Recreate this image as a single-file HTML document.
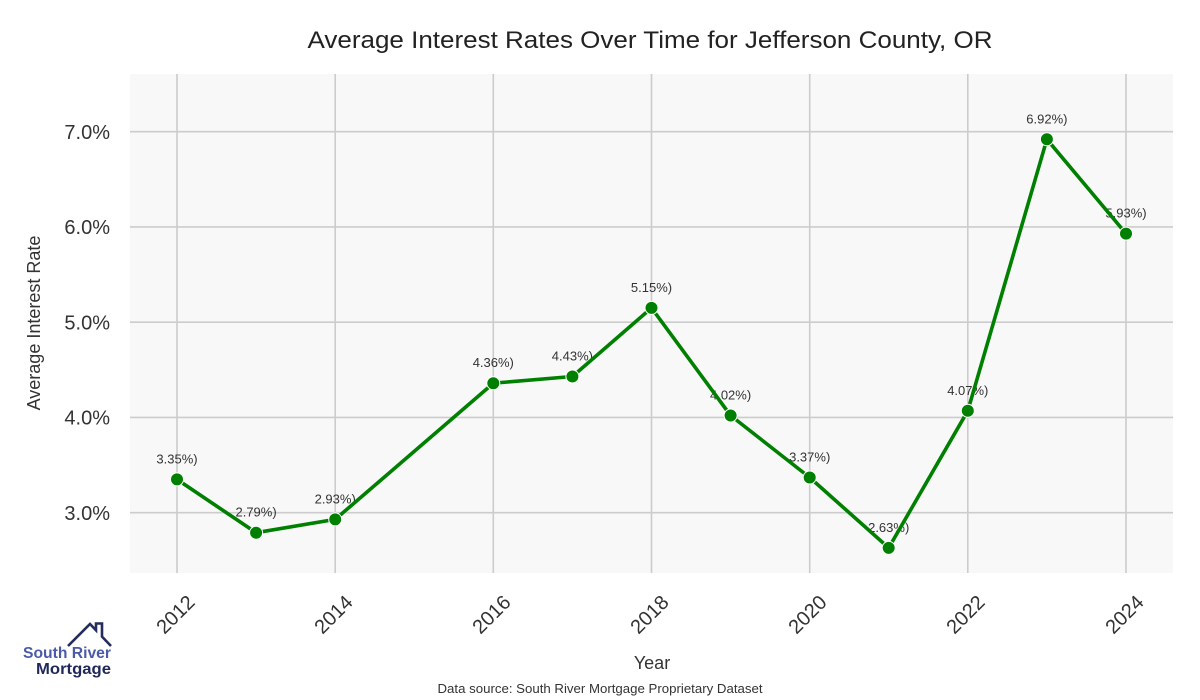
<!DOCTYPE html>
<html>
<head>
<meta charset="utf-8">
<style>
html,body{margin:0;padding:0;background:#fff;}
svg{display:block;}
text{font-family:"Liberation Sans",sans-serif;}
</style>
</head>
<body>
<svg width="1200" height="700" viewBox="0 0 1200 700" xmlns="http://www.w3.org/2000/svg">
  <rect x="0" y="0" width="1200" height="700" fill="#ffffff"/>
  <!-- title -->
  <text x="650" y="48" font-size="24" fill="#222" text-anchor="middle" textLength="685" lengthAdjust="spacingAndGlyphs">Average Interest Rates Over Time for Jefferson County, OR</text>

  <!-- plot bg -->
  <rect x="130" y="74" width="1043" height="499" fill="#f8f8f8"/>

  <!-- grid -->
  <g stroke="#cccccc" stroke-width="1.6">
    <line x1="130" x2="1173" y1="512.7" y2="512.7"/>
    <line x1="130" x2="1173" y1="417.45" y2="417.45"/>
    <line x1="130" x2="1173" y1="322.2" y2="322.2"/>
    <line x1="130" x2="1173" y1="226.95" y2="226.95"/>
    <line x1="130" x2="1173" y1="131.7" y2="131.7"/>
    <line y1="74" y2="573" x1="177" x2="177"/>
    <line y1="74" y2="573" x1="335.2" x2="335.2"/>
    <line y1="74" y2="573" x1="493.3" x2="493.3"/>
    <line y1="74" y2="573" x1="651.5" x2="651.5"/>
    <line y1="74" y2="573" x1="809.7" x2="809.7"/>
    <line y1="74" y2="573" x1="967.8" x2="967.8"/>
    <line y1="74" y2="573" x1="1126" x2="1126"/>
  </g>

  <!-- y tick labels -->
  <g font-size="20" fill="#333" text-anchor="end">
    <text x="110" y="520">3.0%</text>
    <text x="110" y="424.7">4.0%</text>
    <text x="110" y="329.5">5.0%</text>
    <text x="110" y="234.2">6.0%</text>
    <text x="110" y="139">7.0%</text>
  </g>

  <!-- x tick labels -->
  <g font-size="20" fill="#333" text-anchor="middle" dominant-baseline="central">
    <text x="176" y="615" transform="rotate(-45 176 615)">2012</text>
    <text x="334" y="615" transform="rotate(-45 334 615)">2014</text>
    <text x="492" y="615" transform="rotate(-45 492 615)">2016</text>
    <text x="650" y="615" transform="rotate(-45 650 615)">2018</text>
    <text x="808" y="615" transform="rotate(-45 808 615)">2020</text>
    <text x="966" y="615" transform="rotate(-45 966 615)">2022</text>
    <text x="1125" y="615" transform="rotate(-45 1125 615)">2024</text>
  </g>

  <!-- axis labels -->
  <text x="652" y="669" font-size="18" fill="#333" text-anchor="middle">Year</text>
  <text x="0" y="0" font-size="18" fill="#333" text-anchor="middle" transform="translate(40 323) rotate(-90)">Average Interest Rate</text>
  <text x="600" y="693" font-size="13" fill="#333" text-anchor="middle" textLength="325" lengthAdjust="spacingAndGlyphs">Data source: South River Mortgage Proprietary Dataset</text>

  <!-- data labels -->
  <g font-size="13" fill="#333" text-anchor="middle">
    <text x="177" y="463.4">3.35%)</text>
    <text x="256.1" y="516.7">2.79%)</text>
    <text x="335.2" y="503.4">2.93%)</text>
    <text x="493.3" y="367.2">4.36%)</text>
    <text x="572.4" y="360.5">4.43%)</text>
    <text x="651.5" y="291.9">5.15%)</text>
    <text x="730.6" y="399.5">4.02%)</text>
    <text x="809.7" y="461.5">3.37%)</text>
    <text x="888.7" y="531.9">2.63%)</text>
    <text x="967.8" y="394.8">4.07%)</text>
    <text x="1046.9" y="123.3">6.92%)</text>
    <text x="1126" y="217.6">5.93%)</text>
  </g>

  <!-- line -->
  <polyline fill="none" stroke="#008000" stroke-width="3.6" stroke-linejoin="round"
    points="177,479.4 256.1,532.7 335.2,519.4 493.3,383.2 572.4,376.5 651.5,307.9 730.6,415.5 809.7,477.5 888.7,547.9 967.8,410.8 1046.9,139.3 1126,233.6"/>

  <!-- markers -->
  <g fill="#008000" stroke="#ffffff" stroke-width="1">
    <circle cx="177" cy="479.4" r="6.5"/>
    <circle cx="256.1" cy="532.7" r="6.5"/>
    <circle cx="335.2" cy="519.4" r="6.5"/>
    <circle cx="493.3" cy="383.2" r="6.5"/>
    <circle cx="572.4" cy="376.5" r="6.5"/>
    <circle cx="651.5" cy="307.9" r="6.5"/>
    <circle cx="730.6" cy="415.5" r="6.5"/>
    <circle cx="809.7" cy="477.5" r="6.5"/>
    <circle cx="888.7" cy="547.9" r="6.5"/>
    <circle cx="967.8" cy="410.8" r="6.5"/>
    <circle cx="1046.9" cy="139.3" r="6.5"/>
    <circle cx="1126" cy="233.6" r="6.5"/>
  </g>

  <!-- logo -->
  <g fill="none" stroke="#242c5e" stroke-width="2.6" stroke-linejoin="miter">
    <polyline points="68,646 90,624 96,630.3 96,623.5 102,623.5 102,636.6 111,646"/>
  </g>
  <text x="111" y="658" font-size="15.5" font-weight="bold" fill="#4a5ba8" text-anchor="end" textLength="88" lengthAdjust="spacingAndGlyphs">South River</text>
  <text x="111" y="674" font-size="15.5" font-weight="bold" fill="#1f2858" text-anchor="end" textLength="75" lengthAdjust="spacingAndGlyphs">Mortgage</text>
</svg>
</body>
</html>
